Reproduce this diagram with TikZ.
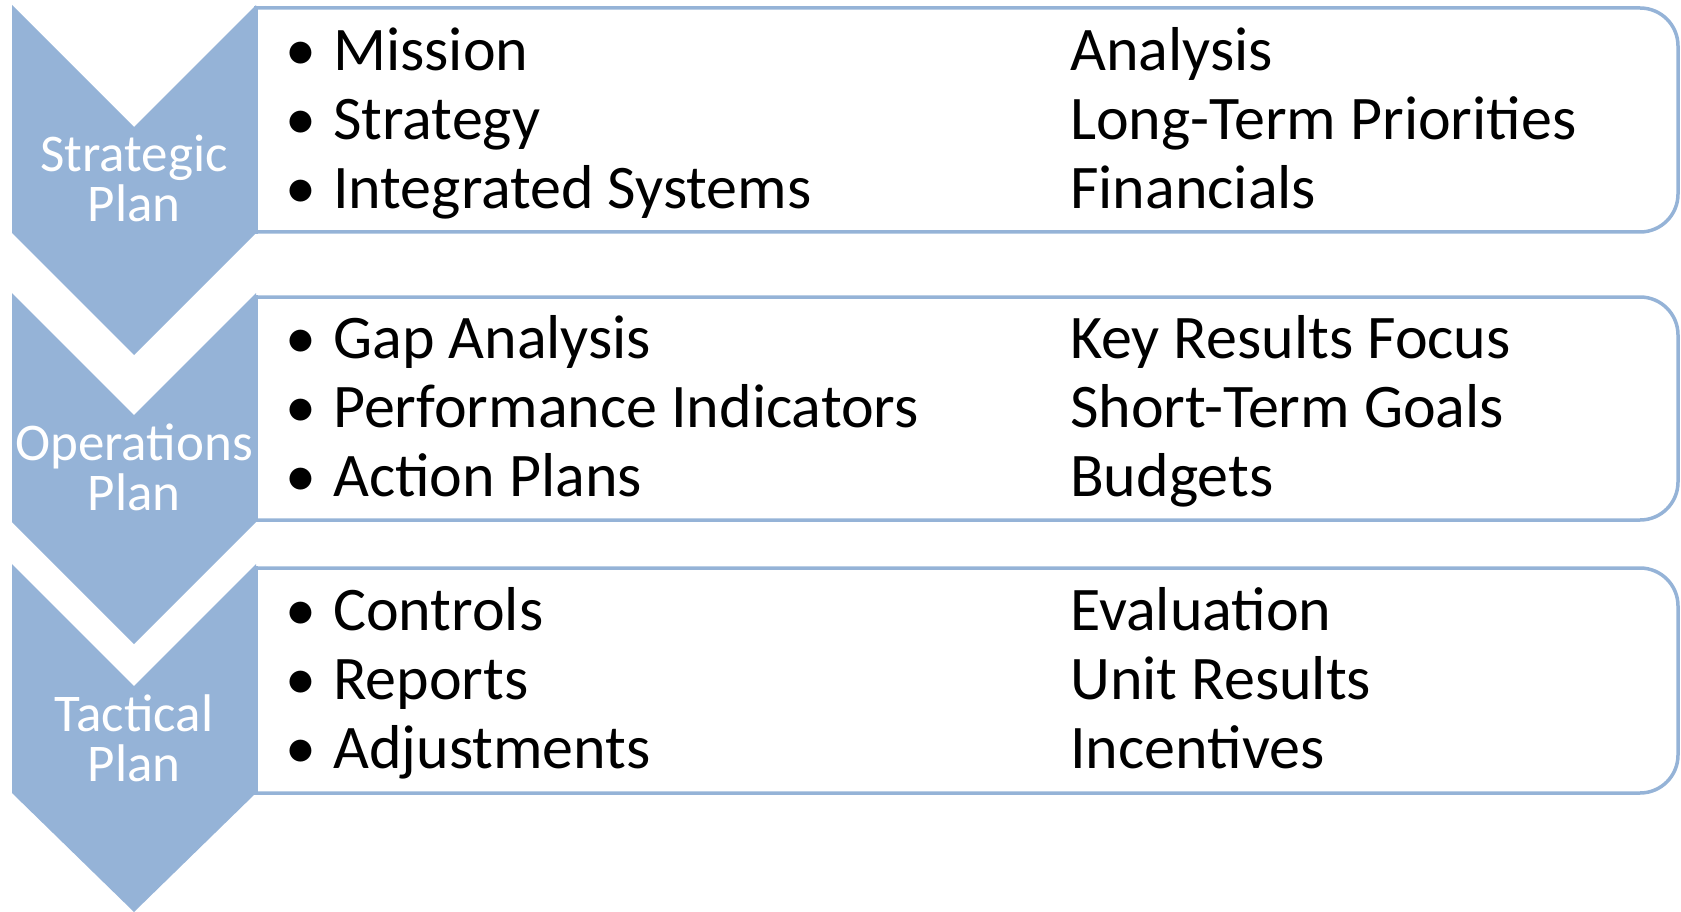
\documentclass[tikz,border=0pt]{standalone}
\usepackage{fontspec}
\setmainfont{Carlito}
\usetikzlibrary{positioning}
\definecolor{planblue}{HTML}{95B3D7}
\newcommand{\pitem}[1]{\makebox[48pt][l]{\textbullet}#1}

\begin{document}
\begin{tikzpicture}[x=1pt,y=-1pt,
  chevron/.style={fill=planblue},
  box line/.style={draw=planblue,line width=3.5pt},
  plan label/.style={text=white,align=center,inner sep=0pt,font=\fontsize{53}{50}\selectfont},
  item list/.style={anchor=base west,align=left,inner sep=0pt,font=\fontsize{62}{69}\selectfont}]
  \useasboundingbox (0,0) rectangle (1681,912);

  % chevrons
  \fill[chevron] (12,5) -- (134,127) -- (256,5) -- (256,233) -- (134,355) -- (12,233) -- cycle;
  \fill[chevron] (12,293) -- (134,415) -- (256,293) -- (256,522) -- (134,644) -- (12,522) -- cycle;
  \fill[chevron] (12,564) -- (134,686) -- (256,564) -- (256,793) -- (134,912) -- (12,793) -- cycle;

  % boxes
  \draw[box line,rounded corners=38pt] (256,8) -- (1678,8) -- (1678,232) -- (256,232);
  \draw[box line,line cap=rect] (256,8) -- (256,232);
  \draw[box line,rounded corners=38pt] (256,297) -- (1678,297) -- (1678,520) -- (256,520);
  \draw[box line,line cap=rect] (256,297) -- (256,520);
  \draw[box line,rounded corners=38pt] (256,568) -- (1678,568) -- (1678,793) -- (256,793);
  \draw[box line,line cap=rect] (256,568) -- (256,793);

  \node[plan label] (strategic) at (134,178) {Strategic\\Plan};
  \node[plan label] (operations) at (134,467) {Operations\\Plan};
  \node[plan label] (tactical) at (134,738) {Tactical\\Plan};

  % anchored at the baseline of the last line
  \node[item list] (stratleft) at (285,208) {\pitem{Mission}\\\pitem{Strategy}\\\pitem{Integrated Systems}};
  \node[item list] (stratright) at (1070,208) {Analysis\\Long-Term Priorities\\Financials};
  \node[item list] (opsleft) at (285,496) {\pitem{Gap Analysis}\\\pitem{Performance Indicators}\\\pitem{Action Plans}};
  \node[item list] (opsright) at (1070,496) {Key Results Focus\\Short-Term Goals\\Budgets};
  \node[item list] (tactleft) at (285,768) {\pitem{Controls}\\\pitem{Reports}\\\pitem{Adjustments}};
  \node[item list] (tactright) at (1070,768) {Evaluation\\Unit Results\\Incentives};
\end{tikzpicture}
\end{document}
